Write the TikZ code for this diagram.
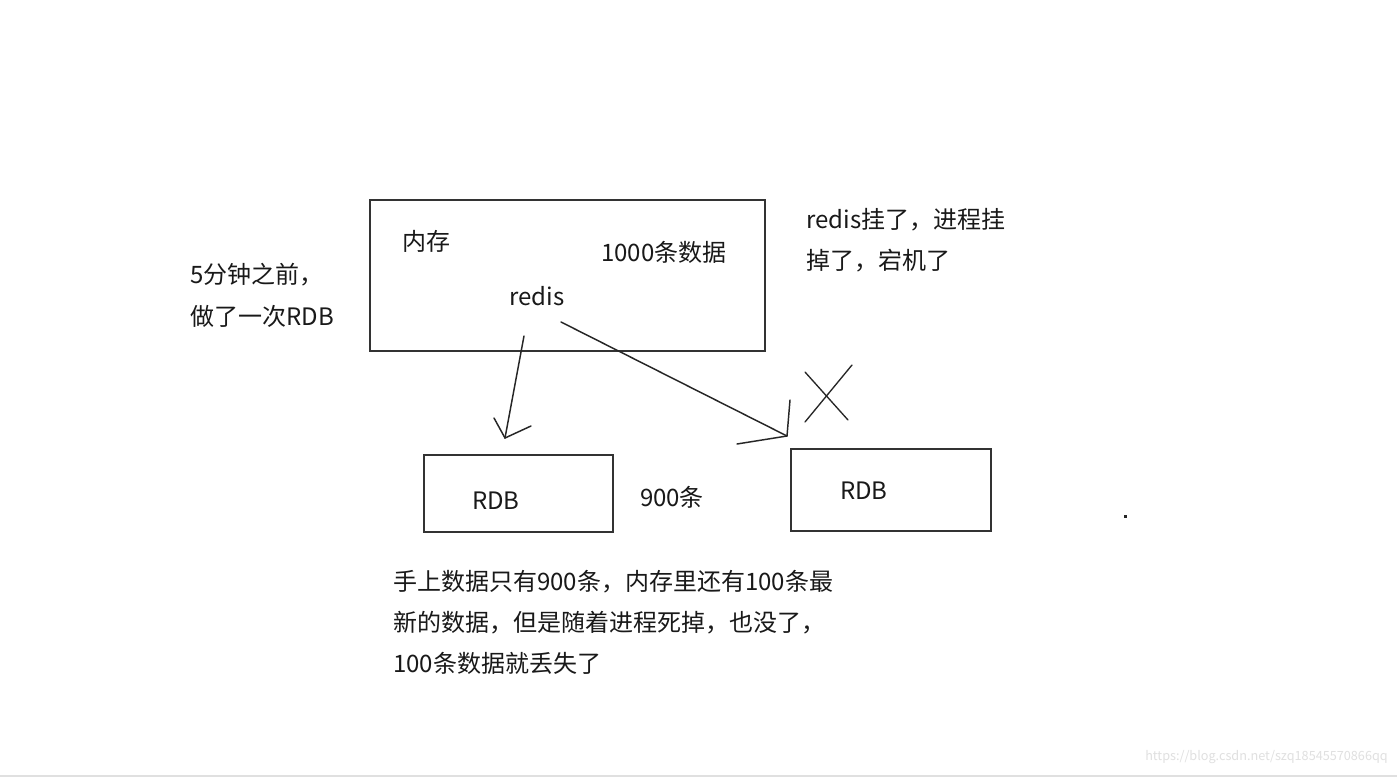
\documentclass[tikz,border=0pt]{standalone}
\usepackage{fontspec}
\setmainfont{Noto Sans CJK SC}
\begin{document}
\begin{tikzpicture}[x=0.75pt,y=-0.75pt,
  txt/.style={font=\fontsize{18}{22}\selectfont, inner sep=0pt, text=black!90},
  boxr/.style={draw=black!80, line width=1.3pt},
  pen/.style={line width=1.1pt, draw=black!85, line cap=round},
  wm/.style={font=\fontsize{9.5}{11}\selectfont, inner sep=0pt, text=black!12}]
\useasboundingbox (0,0) rectangle (1397,778);
\fill[white] (0,0) rectangle (1397,778);
\draw[black!12, line width=1pt] (0,776) -- (1397,776);

% boxes
\draw[boxr] (370,200) rectangle (765,351);
\node[boxr, minimum width=189*0.75pt, minimum height=77*0.75pt, inner sep=0pt] (rdbL) at (518.5,493.5) {};
\node[boxr, minimum width=200*0.75pt, minimum height=82*0.75pt, inner sep=0pt] (rdbR) at (891,490) {};

% texts
\node[txt, anchor=west] (mem) at (402,241) {内存};
\node[txt, anchor=west] (cnt) at (601,252) {1000条数据};
\node[txt] (redis) at (537,296) {redis};
\node[txt, anchor=west] (left1) at (190,275) {5分钟之前，};
\node[txt, anchor=west] (left2) at (190,316) {做了一次RDB};
\node[txt, anchor=west] (r1) at (806,220) {redis挂了，进程挂};
\node[txt, anchor=west] (r2) at (806,261) {掉了，宕机了};
\node[txt] (rdbLt) at (496,501) {RDB};
\node[txt] (rdbRt) at (864,491) {RDB};
\node[txt] (n900) at (672,497) {900条};
\node[txt, anchor=west] (b1) at (393,582) {手上数据只有900条，内存里还有100条最};
\node[txt, anchor=west] (b2) at (393,623) {新的数据，但是随着进程死掉，也没了，};
\node[txt, anchor=west] (b3) at (393,663) {100条数据就丢失了};
\node[wm, anchor=east] (wmk) at (1388,757) {https://blog.csdn.net/szq18545570866qq};
\fill[black!85] (1123.5,514.5) rectangle (1126.5,517.5);

% arrow 1
\coordinate (a1s) at (524,336);
\coordinate (a1e) at (505,438);
\draw[pen] (a1s) -- (a1e);
\draw[pen] (494,418) -- (a1e) -- (531,426);

% arrow 2
\coordinate (a2s) at (561,322);
\coordinate (a2e) at (787,436);
\draw[pen] (a2s) -- (a2e);
\draw[pen] (790,400) -- (a2e) -- (737,444);

% cross
\draw[pen, line width=1pt] (805,372) -- (848,420);
\draw[pen, line width=1pt] (852,365) -- (805,422);
\end{tikzpicture}
\end{document}
